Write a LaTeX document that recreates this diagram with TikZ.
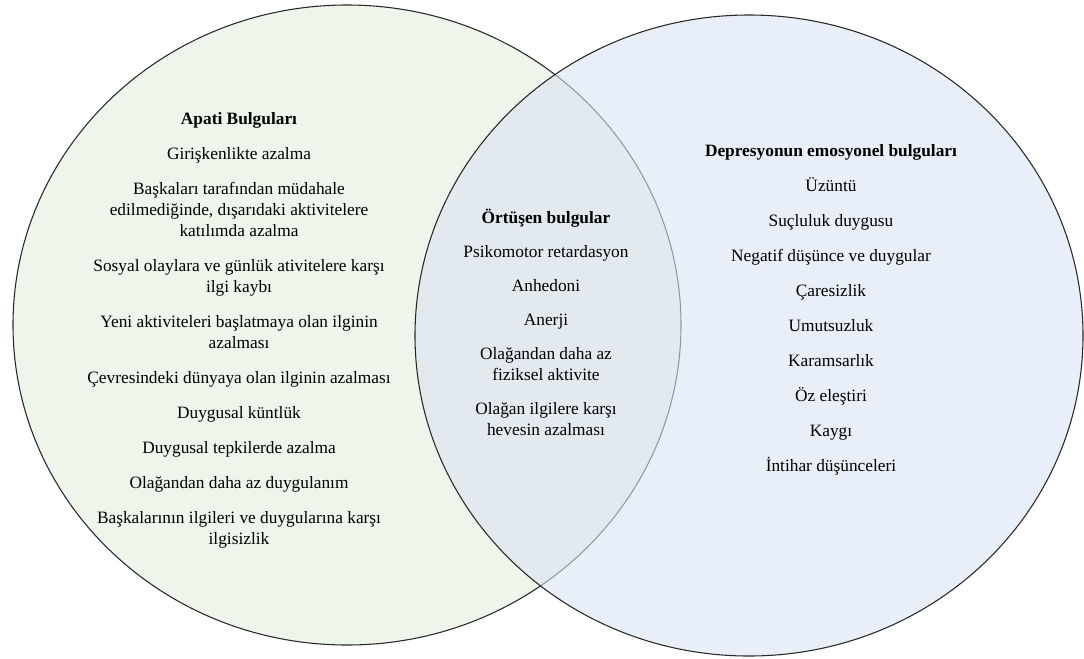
\documentclass[tikz,border=0pt]{standalone}
\usepackage{fontspec}
\setmainfont{Liberation Serif}
\usepackage{xcolor}
\definecolor{apatiyesil}{RGB}{238,245,235}
\definecolor{depreavi}{RGB}{218,228,243}
\definecolor{cizgi}{RGB}{40,40,40}

\begin{document}
\begin{tikzpicture}[x=0.75pt,y=-0.75pt]
        \tikzstyle{kume}=[draw=cizgi, line width=0.8pt]
        \tikzstyle{liste}=[align=center, anchor=base, inner sep=0pt, font=\fontsize{13}{15.75}\selectfont]

        \useasboundingbox (0,0) rectangle (1084,658);

        % kumelerin merkezleri
        \coordinate (A) at (347,325);
        \coordinate (D) at (749,335.5);
        % listelerin son satirlari
        \coordinate (TA) at (239,544);
        \coordinate (TO) at (546,435);
        \coordinate (TD) at (831,471);

        \draw[kume, fill=apatiyesil] (A) ellipse [x radius=334, y radius=320];
        \fill[depreavi, fill opacity=0.6] (D) ellipse [x radius=334, y radius=320.5];
        \draw[kume] (D) ellipse [x radius=334, y radius=320.5];

        \node (apati) at (TA)[liste]{\textbf{Apati Bulguları}\\[10.5pt]
          Girişkenlikte azalma\\[10.5pt]
          Başkaları tarafından müdahale\\ edilmediğinde, dışarıdaki aktivitelere\\ katılımda azalma\\[10.5pt]
          Sosyal olaylara ve günlük ativitelere karşı\\ ilgi kaybı\\[10.5pt]
          Yeni aktiviteleri başlatmaya olan ilginin\\ azalması\\[10.5pt]
          Çevresindeki dünyaya olan ilginin azalması\\[10.5pt]
          Duygusal küntlük\\[10.5pt]
          Duygusal tepkilerde azalma\\[10.5pt]
          Olağandan daha az duygulanım\\[10.5pt]
          Başkalarının ilgileri ve duygularına karşı\\ ilgisizlik};

        \node (ortusen) at (TO)[liste]{\textbf{Örtüşen bulgular}\\[9.75pt]
          Psikomotor retardasyon\\[9.75pt]
          Anhedoni\\[9.75pt]
          Anerji\\[9.75pt]
          Olağandan daha az\\ fiziksel aktivite\\[9.75pt]
          Olağan ilgilere karşı\\ hevesin azalması};

        \node (depresyon) at (TD)[liste]{\textbf{Depresyonun emosyonel bulguları}\\[10.5pt]
          Üzüntü\\[10.5pt]
          Suçluluk duygusu\\[10.5pt]
          Negatif düşünce ve duygular\\[10.5pt]
          Çaresizlik\\[10.5pt]
          Umutsuzluk\\[10.5pt]
          Karamsarlık\\[10.5pt]
          Öz eleştiri\\[10.5pt]
          Kaygı\\[10.5pt]
          İntihar düşünceleri};
      \end{tikzpicture}
\end{document}
